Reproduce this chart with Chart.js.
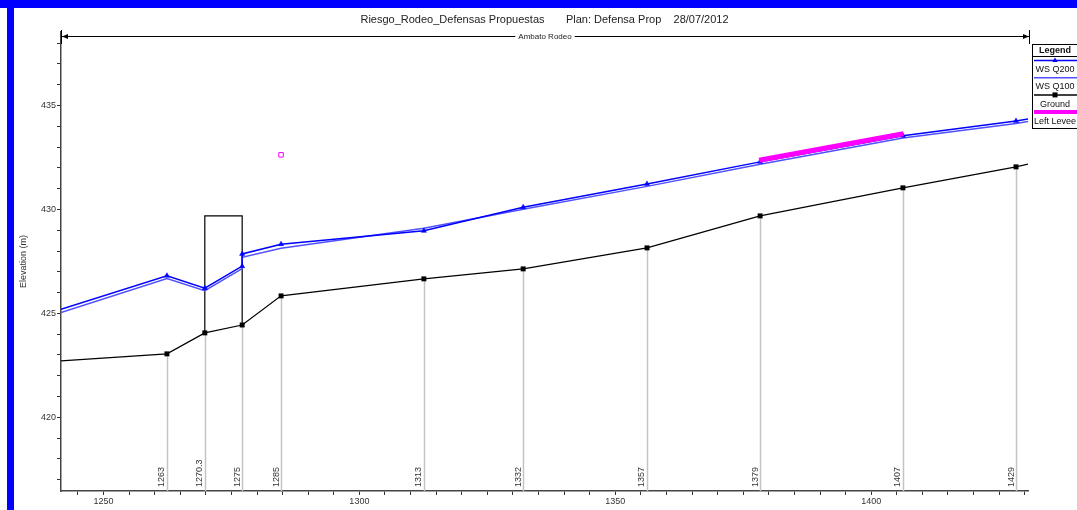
<!DOCTYPE html>
<html><head><meta charset="utf-8">
<script src="https://cdn.jsdelivr.net/npm/chart.js@4.4.1/dist/chart.umd.min.js"></script>
<style>
html,body{margin:0;padding:0;background:#fff;}
#wrap{position:relative;width:1077px;height:510px;overflow:hidden;background:#fff;}
#c{position:absolute;left:0;top:0;}
.bar{position:absolute;background:#0000ff;}
</style></head><body>
<div id="wrap">
<canvas id="c" width="1077" height="510"></canvas>
<div class="bar" style="left:0;top:0;width:1077px;height:8px"></div>
<div class="bar" style="left:7px;top:0;width:7px;height:510px"></div>
</div>
<script>
// ---- data ----
const titleText = 'Riesgo_Rodeo_Defensas Propuestas       Plan: Defensa Prop    28/07/2012';
const reachName = 'Ambato Rodeo';
const yAxisTitle = 'Elevation (m)';

const groundX = [1241.7, 1262.4, 1269.8, 1277.1, 1284.7, 1312.6, 1332.0, 1356.2, 1378.3, 1406.2, 1428.3, 1430.7];
const groundY = [422.71, 423.05, 424.06, 424.44, 425.84, 426.66, 427.14, 428.15, 429.69, 431.04, 432.05, 432.19];

const wsX    = [1241.7, 1262.4, 1269.8, 1277.1, 1277.1, 1284.7, 1312.6, 1332.0, 1356.2, 1378.3, 1406.2, 1428.3, 1430.7];
const wsQ200 = [425.19, 426.81, 426.21, 427.27, 427.86, 428.33, 428.97, 430.11, 431.23, 432.29, 433.55, 434.26, 434.35];
const wsQ100 = [425.04, 426.68, 426.09, 427.15, 427.70, 428.13, 429.10, 430.01, 431.11, 432.17, 433.44, 434.14, 434.24];

const leveeX = [1378.1, 1406.3];
const leveeY = [432.37, 433.64];
const leveePtX = [1284.7];
const leveePtY = [432.63];

const structX = [1269.8, 1269.8, 1277.1, 1277.1];
const structY = [424.06, 429.69, 429.69, 424.44];

const stationLabels = ['1263', '1270.3', '1275', '1285', '1313', '1332', '1357', '1379', '1407', '1429'];

const xMin = 1241.7, xMax = 1430.64;
const yMin = 416.45, yMax = 438.54;

// ---- helpers ----
const pts = (xs, ys) => xs.map((x, i) => ({x: x, y: ys[i]}));
const FONT = "'Liberation Sans', Arial, sans-serif";
const lastW = wsX.length - 1, lastG = groundX.length - 1;

const stationPlugin = {
  id: 'stations',
  beforeDatasetsDraw(chart) {
    const {ctx, scales: {x, y}, chartArea} = chart;
    ctx.save();
    ctx.strokeStyle = '#c4c4c4';
    ctx.lineWidth = 1.5;
    for (let i = 0; i < stationLabels.length; i++) {
      const px = Math.round(x.getPixelForValue(groundX[i + 1])) + 0.5;
      const py = y.getPixelForValue(groundY[i + 1]);
      ctx.beginPath(); ctx.moveTo(px, py); ctx.lineTo(px, chartArea.bottom); ctx.stroke();
    }
    ctx.restore();
  },
  afterDatasetsDraw(chart) {
    const {ctx, scales: {x}, chartArea} = chart;
    ctx.save();
    ctx.fillStyle = '#333';
    ctx.font = '9px ' + FONT;
    ctx.textAlign = 'left';
    ctx.textBaseline = 'bottom';
    for (let i = 0; i < stationLabels.length; i++) {
      const px = x.getPixelForValue(groundX[i + 1]);
      ctx.save();
      ctx.translate(px - 0.5, chartArea.bottom - 4);
      ctx.rotate(-Math.PI / 2);
      ctx.fillText(stationLabels[i], 0, 0);
      ctx.restore();
    }
    ctx.restore();
  }
};

const overlayPlugin = {
  id: 'overlay',
  afterDraw(chart) {
    const {ctx, chartArea, data} = chart;
    ctx.save();
    // reach arrow
    const x0 = chartArea.left, x1 = chartArea.right + 1, ya = 36.5;
    ctx.strokeStyle = '#000'; ctx.fillStyle = '#000'; ctx.lineWidth = 1;
    ctx.beginPath(); ctx.moveTo(x0, ya); ctx.lineTo(x1, ya); ctx.stroke();
    ctx.beginPath(); ctx.moveTo(x0 + 0.5, 30); ctx.lineTo(x0 + 0.5, 44); ctx.stroke();
    ctx.beginPath(); ctx.moveTo(x1 + 0.5, 30); ctx.lineTo(x1 + 0.5, 44); ctx.stroke();
    ctx.beginPath(); ctx.moveTo(x0 + 1, ya); ctx.lineTo(x0 + 7, ya - 2.5); ctx.lineTo(x0 + 7, ya + 2.5); ctx.closePath(); ctx.fill();
    ctx.beginPath(); ctx.moveTo(x1, ya); ctx.lineTo(x1 - 6, ya - 2.5); ctx.lineTo(x1 - 6, ya + 2.5); ctx.closePath(); ctx.fill();
    ctx.font = '8px ' + FONT;
    const cx = (x0 + x1) / 2;
    const tw = ctx.measureText(reachName).width;
    ctx.fillStyle = '#fff';
    ctx.fillRect(cx - tw / 2 - 3, ya - 5, tw + 6, 10);
    ctx.fillStyle = '#222';
    ctx.textAlign = 'center'; ctx.textBaseline = 'middle';
    ctx.fillText(reachName, cx, ya + 0.5);

    // legend box
    const lx = 1032, ly = 44, lcx = 1055;
    ctx.fillStyle = '#fff';
    ctx.fillRect(lx, ly, 60, 85);
    ctx.strokeStyle = '#000'; ctx.lineWidth = 1;
    ctx.strokeRect(lx + 0.5, ly + 0.5, 60, 84);
    ctx.beginPath(); ctx.moveTo(lx, 56.5); ctx.lineTo(1077, 56.5); ctx.stroke();
    ctx.fillStyle = '#111';
    ctx.font = 'bold 9px ' + FONT;
    ctx.textAlign = 'center'; ctx.textBaseline = 'middle';
    ctx.fillText('Legend', lcx, 50.5);
    const order = [1, 2, 3, 0];
    ctx.font = '9px ' + FONT;
    order.forEach((di, k) => {
      const ds = data.datasets[di];
      const yl = 60.5 + k * 17.2;
      ctx.strokeStyle = ds.borderColor;
      ctx.lineWidth = di === 0 ? 4 : 1.5;
      ctx.beginPath(); ctx.moveTo(lx + 2, yl); ctx.lineTo(1077, yl); ctx.stroke();
      ctx.fillStyle = ds.borderColor;
      if (di === 1) {
        ctx.beginPath(); ctx.moveTo(lcx, yl - 3); ctx.lineTo(lcx + 2.6, yl + 1.5); ctx.lineTo(lcx - 2.6, yl + 1.5); ctx.closePath(); ctx.fill();
      } else if (di === 3) {
        ctx.fillRect(lcx - 2.5, yl - 2.5, 5, 5);
      }
      ctx.fillStyle = '#111';
      ctx.fillText(ds.label, lcx, 69.5 + k * 17.3);
    });
    ctx.restore();
  }
};

const xTicks = [];
for (let v = 1245; v <= xMax; v += 5) xTicks.push({value: v});
const yTicks = [];
for (let v = 417; v <= yMax; v += 1) yTicks.push({value: v});

new Chart(document.getElementById('c'), {
  type: 'line',
  data: {
    datasets: [
      {label: 'Left Levee', data: pts(leveeX, leveeY), borderColor: '#ff00ff', borderWidth: 5,
       pointRadius: 0, order: 0},
      {label: 'WS Q200', data: pts(wsX, wsQ200), borderColor: '#0000ff', backgroundColor: '#0000ff', borderWidth: 1.5,
       pointStyle: 'triangle', pointRadius: c => (c.dataIndex === 0 || c.dataIndex === lastW) ? 0 : 3,
       pointBorderWidth: 0.5, pointBackgroundColor: '#0000ff', pointBorderColor: '#0000ff', order: 2},
      {label: 'WS Q100', data: pts(wsX, wsQ100), borderColor: '#5050ff', backgroundColor: '#5050ff', borderWidth: 1.5,
       pointRadius: 0, order: 3},
      {label: 'Ground', data: pts(groundX, groundY), borderColor: '#000', backgroundColor: '#000', borderWidth: 1.2,
       pointStyle: 'rect', pointRadius: c => (c.dataIndex === 0 || c.dataIndex === lastG) ? 0 : 3.5,
       pointBorderWidth: 0, pointBackgroundColor: '#000', order: 4},
      {label: 'Structure', data: pts(structX, structY), borderColor: '#000', borderWidth: 1.2,
       pointRadius: 0, order: 5},
      {label: 'Left Levee point', data: pts(leveePtX, leveePtY), showLine: false, borderColor: '#ff00ff',
       pointStyle: 'rect', pointRadius: 3.2, pointBorderWidth: 1, pointBorderColor: '#ff00ff',
       pointBackgroundColor: '#ffffff', order: 1}
    ]
  },
  options: {
    responsive: false,
    animation: false,
    devicePixelRatio: 1,
    parsing: true,
    layout: {padding: {left: 12, right: 0, top: 0, bottom: 0}},
    plugins: {
      legend: {display: false},
      tooltip: {enabled: false},
      title: {display: true, text: titleText, color: '#222',
              font: {family: FONT, size: 11, weight: 'normal'}, padding: {top: 13.4, bottom: 5.4}}
    },
    elements: {line: {tension: 0, fill: false}},
    scales: {
      x: {
        type: 'linear', position: 'bottom', min: xMin, max: xMax,
        afterBuildTicks: s => { s.ticks = xTicks.map(t => ({value: t.value})); },
        afterFit: s => { s.height = 19; },
        ticks: {autoSkip: false, maxRotation: 0, padding: 1, color: '#333',
                font: {family: FONT, size: 9},
                callback: v => (v % 50 === 0 ? String(v) : '')},
        grid: {drawOnChartArea: false, drawTicks: true, tickLength: 4, tickColor: '#333', tickWidth: 1},
        border: {display: true, color: '#444', width: 1.5}
      },
      y: {
        type: 'linear', position: 'left', min: yMin, max: yMax,
        afterBuildTicks: s => { s.ticks = yTicks.map(t => ({value: t.value})); },
        afterFit: s => { s.width = 49; },
        ticks: {autoSkip: false, padding: 1, color: '#333', font: {family: FONT, size: 9},
                callback: v => (v % 5 === 0 ? String(v) : '')},
        grid: {drawOnChartArea: false, drawTicks: true, tickLength: 4, tickColor: '#333', tickWidth: 1},
        border: {display: true, color: '#444', width: 1.5},
        title: {display: true, text: yAxisTitle, color: '#333', font: {family: FONT, size: 9},
                padding: {top: 6, bottom: 0}}
      },
      yR: {
        type: 'linear', position: 'right', display: true,
        afterFit: s => { s.width = 49; },
        ticks: {display: false},
        grid: {display: false, drawTicks: false},
        border: {display: false}
      }
    }
  },
  plugins: [stationPlugin, overlayPlugin]
});
</script>
</body></html>
